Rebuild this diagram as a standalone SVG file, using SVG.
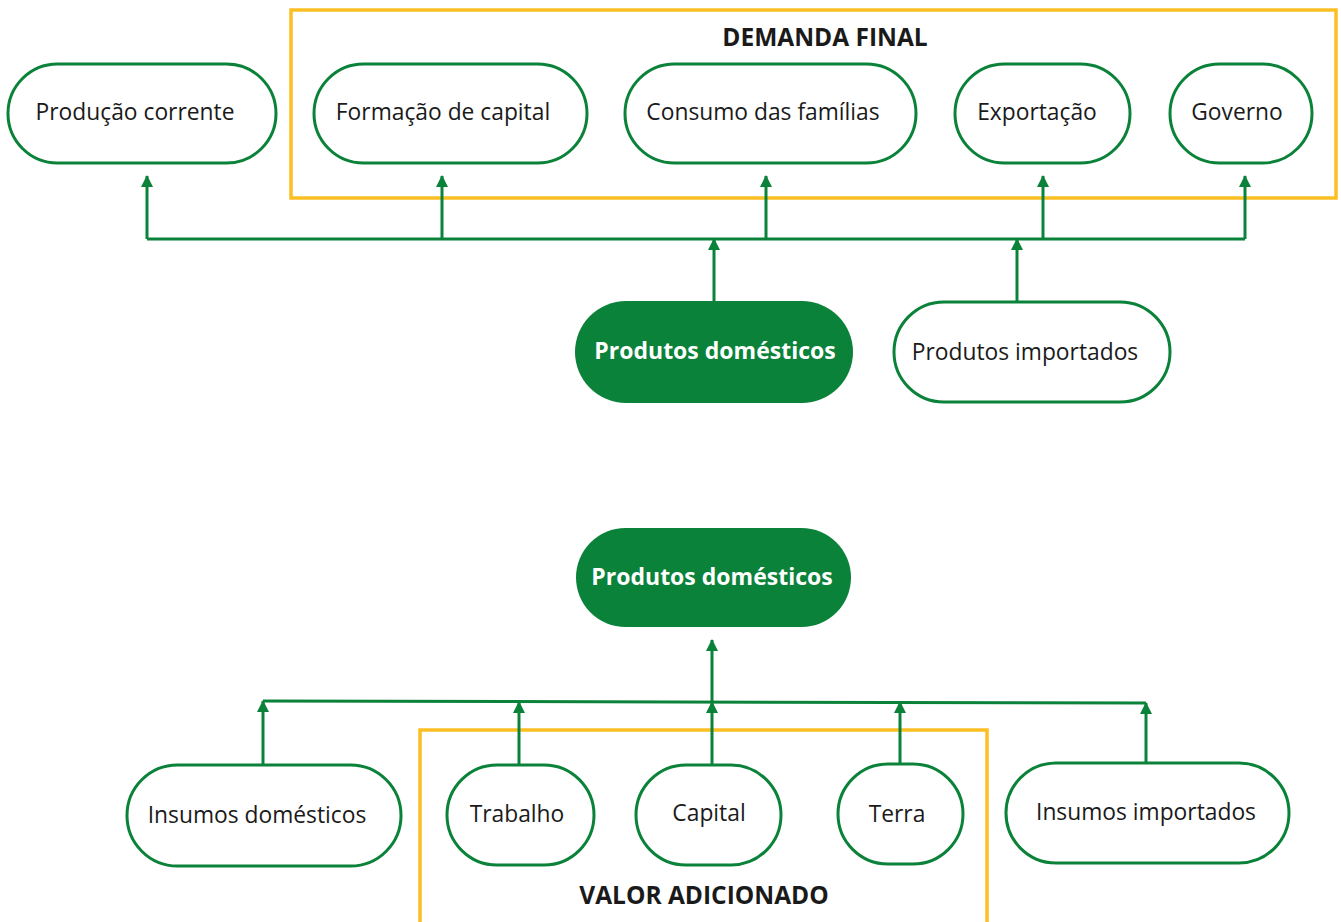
<svg xmlns="http://www.w3.org/2000/svg" width="1341" height="922" viewBox="0 0 1341 922">
<defs>
<style>
.n{fill:#fff;stroke:#0b8239;stroke-width:3}
.f{fill:#0b8239;stroke:none}
.t{font-family:"Open Sans","Noto Sans","Liberation Sans",sans-serif;font-size:22.8px;fill:#1a1a1a;text-anchor:middle}
.w{font-family:"Open Sans","Noto Sans","Liberation Sans",sans-serif;font-size:23px;font-weight:bold;fill:#fff;text-anchor:middle}
.h{font-family:"Open Sans","Noto Sans","Liberation Sans",sans-serif;font-size:24.5px;font-weight:bold;fill:#1a1a1a;text-anchor:middle}
.y{fill:none;stroke:#fbbf24;stroke-width:3.5}
.c{fill:none;stroke:#0b8239;stroke-width:3}
.a{fill:none;stroke:#0b8239;stroke-width:3;marker-end:url(#ah)}
</style>
<marker id="ah" viewBox="0 0 12 12" refX="11" refY="6" markerWidth="13" markerHeight="12" markerUnits="userSpaceOnUse" orient="auto">
<path d="M0,0 L12,6 L0,12 z" fill="#0b8239"/>
</marker>
</defs>
<rect width="1341" height="922" fill="#fff"/>

<g id="group-demanda-final">
<rect class="y" x="291" y="10" width="1045" height="188"/>
<text class="h" x="825" y="46">DEMANDA FINAL</text>
</g>
<g id="group-valor-adicionado">
<path class="y" d="M420,925 L420,730 L987,730 L987,925"/>
<text class="h" x="704" y="904">VALOR ADICIONADO</text>
</g>

<g id="connectors">
<path class="c" d="M147,239 L1245,239"/>
<path class="a" d="M147,239 L147,176"/>
<path class="a" d="M442,239 L442,176"/>
<path class="a" d="M766,239 L766,176"/>
<path class="a" d="M1043,239 L1043,176"/>
<path class="a" d="M1245,239 L1245,176"/>
<path class="a" d="M714,301 L714,239"/>
<path class="a" d="M1017,302 L1017,239"/>

<path class="c" d="M263,701 L1146,703"/>
<path class="a" d="M263,765 L263,701"/>
<path class="a" d="M519,765 L519,702"/>
<path class="a" d="M712,765 L712,702"/>
<path class="a" d="M712,702 L712,640"/>
<path class="a" d="M900,764 L900,702"/>
<path class="a" d="M1146,763 L1146,703"/>
</g>

<g id="producao-corrente">
<rect class="n" x="8" y="64" width="268" height="99" rx="49.5"/>
<text class="t" x="135" y="120">Produção corrente</text>
</g>
<g id="formacao-de-capital">
<rect class="n" x="314" y="64" width="273" height="99" rx="49.5"/>
<text class="t" x="443" y="120">Formação de capital</text>
</g>
<g id="consumo-das-familias">
<rect class="n" x="625" y="64" width="291" height="99" rx="49.5"/>
<text class="t" x="763" y="120">Consumo das famílias</text>
</g>
<g id="exportacao">
<rect class="n" x="955" y="64" width="175" height="99" rx="49.5"/>
<text class="t" x="1037" y="120">Exportação</text>
</g>
<g id="governo">
<rect class="n" x="1170" y="64" width="142" height="99" rx="49.5"/>
<text class="t" x="1237" y="120">Governo</text>
</g>

<g id="produtos-domesticos-top">
<rect class="f" x="575" y="301" width="278" height="102" rx="51"/>
<text class="w" x="715" y="359">Produtos domésticos</text>
</g>
<g id="produtos-importados">
<rect class="n" x="894" y="302" width="276" height="100" rx="50"/>
<text class="t" x="1025" y="360">Produtos importados</text>
</g>

<g id="produtos-domesticos-bottom">
<rect class="f" x="576" y="528" width="275" height="99" rx="49.5"/>
<text class="w" x="712" y="585">Produtos domésticos</text>
</g>

<g id="insumos-domesticos">
<rect class="n" x="127" y="765" width="274" height="101" rx="50.5"/>
<text class="t" x="257" y="823">Insumos domésticos</text>
</g>
<g id="trabalho">
<rect class="n" x="447" y="765" width="147" height="100" rx="50"/>
<text class="t" x="517" y="822">Trabalho</text>
</g>
<g id="capital">
<rect class="n" x="636" y="765" width="145" height="100" rx="50"/>
<text class="t" x="709" y="821">Capital</text>
</g>
<g id="terra">
<rect class="n" x="838" y="764" width="125" height="100" rx="50"/>
<text class="t" x="897" y="822">Terra</text>
</g>
<g id="insumos-importados">
<rect class="n" x="1006" y="763" width="283" height="100" rx="50"/>
<text class="t" x="1146" y="820">Insumos importados</text>
</g>
</svg>
